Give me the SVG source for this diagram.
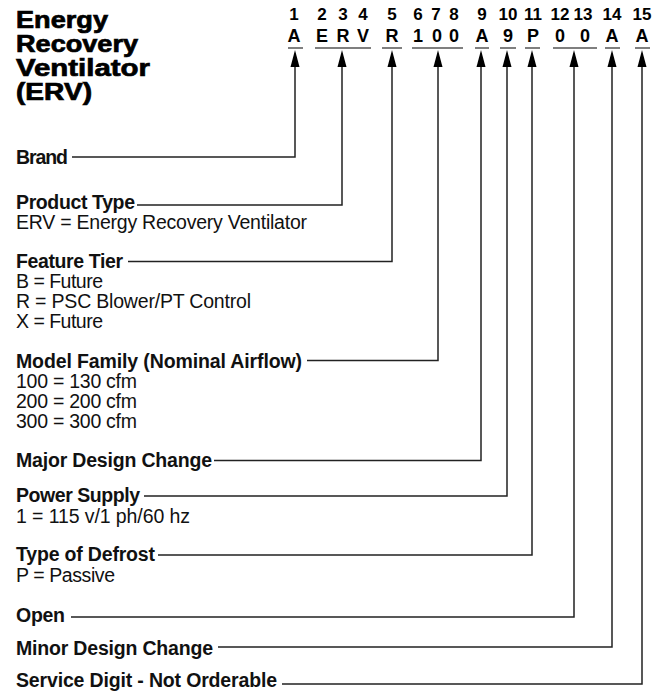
<svg xmlns="http://www.w3.org/2000/svg" width="666" height="694" viewBox="0 0 666 694">
<style>
.t{font-family:"Liberation Sans",Arial,sans-serif;font-weight:bold;font-size:23px;fill:#000;stroke:#000;stroke-width:0.7}
.d{font-family:"Liberation Sans",Arial,sans-serif;font-weight:bold;font-size:17px;fill:#000;text-anchor:middle}
.c{font-family:"Liberation Sans",Arial,sans-serif;font-weight:bold;font-size:18px;fill:#000;text-anchor:middle}
.l{font-family:"Liberation Sans",Arial,sans-serif;font-weight:bold;font-size:19.5px;fill:#111}
.v{font-family:"Liberation Sans",Arial,sans-serif;font-size:19.5px;fill:#111}
.u{stroke:#555;stroke-width:1.5;fill:none}
.w{stroke:#222;stroke-width:1.5;fill:none}
.a{fill:#000}
</style>
<rect width="666" height="694" fill="#fff"/>
<g id="title">
<text class="t" x="16" y="28" textLength="92" lengthAdjust="spacingAndGlyphs">Energy</text>
<text class="t" x="16" y="52" textLength="122" lengthAdjust="spacingAndGlyphs">Recovery</text>
<text class="t" x="16" y="76" textLength="134" lengthAdjust="spacingAndGlyphs">Ventilator</text>
<text class="t" x="16" y="100" textLength="76" lengthAdjust="spacingAndGlyphs">(ERV)</text>
</g>
<g id="code">
<g id="pos1"><text class="d" x="294" y="20">1</text><text class="c" x="294" y="42">A</text><line class="u" x1="288" y1="48" x2="303" y2="48"/></g>
<g id="pos2-4"><text class="d" x="322" y="20">2</text><text class="d" x="343" y="20">3</text><text class="d" x="363" y="20">4</text><text class="c" x="322" y="42">E</text><text class="c" x="343" y="42">R</text><text class="c" x="363" y="42">V</text><line class="u" x1="315" y1="48" x2="371" y2="48"/></g>
<g id="pos5"><text class="d" x="392" y="20">5</text><text class="c" x="392" y="42">R</text><line class="u" x1="382" y1="48" x2="402" y2="48"/></g>
<g id="pos6-8"><text class="d" x="418" y="20">6</text><text class="d" x="436" y="20">7</text><text class="d" x="454" y="20">8</text><text class="c" x="418" y="42">1</text><text class="c" x="437" y="42">0</text><text class="c" x="454" y="42">0</text><line class="u" x1="412" y1="48" x2="463" y2="48"/></g>
<g id="pos9"><text class="d" x="482" y="20">9</text><text class="c" x="482" y="42">A</text><line class="u" x1="475" y1="48" x2="489" y2="48"/></g>
<g id="pos10"><text class="d" x="508" y="20">10</text><text class="c" x="508" y="42">9</text><line class="u" x1="500" y1="48" x2="516" y2="48"/></g>
<g id="pos11"><text class="d" x="533" y="20">11</text><text class="c" x="533" y="42">P</text><line class="u" x1="525" y1="48" x2="540" y2="48"/></g>
<g id="pos12-13"><text class="d" x="560" y="20">12</text><text class="d" x="583" y="20">13</text><text class="c" x="560" y="42">0</text><text class="c" x="585" y="42">0</text><line class="u" x1="553" y1="48" x2="597" y2="48"/></g>
<g id="pos14"><text class="d" x="612" y="20">14</text><text class="c" x="612" y="42">A</text><line class="u" x1="605" y1="48" x2="620" y2="48"/></g>
<g id="pos15"><text class="d" x="642" y="20">15</text><text class="c" x="642" y="42">A</text><line class="u" x1="635" y1="48" x2="650" y2="48"/></g>
</g>
<g id="brand"><text class="l" x="16" y="164" textLength="52">Brand</text></g>
<g id="product-type"><text class="l" x="16" y="209" textLength="119">Product Type</text><text class="v" x="16" y="229" textLength="291">ERV = Energy Recovery Ventilator</text></g>
<g id="feature-tier"><text class="l" x="16" y="268" textLength="107">Feature Tier</text><text class="v" x="16" y="288" textLength="87">B = Future</text><text class="v" x="16" y="308" textLength="235">R = PSC Blower/PT Control</text><text class="v" x="16" y="328" textLength="87">X = Future</text></g>
<g id="model-family"><text class="l" x="16" y="368" textLength="286">Model Family (Nominal Airflow)</text><text class="v" x="16" y="388" textLength="121">100 = 130 cfm</text><text class="v" x="16" y="408" textLength="121">200 = 200 cfm</text><text class="v" x="16" y="428" textLength="121">300 = 300 cfm</text></g>
<g id="major-design"><text class="l" x="16" y="467" textLength="196">Major Design Change</text></g>
<g id="power-supply"><text class="l" x="16" y="502" textLength="124">Power Supply</text><text class="v" x="16" y="523" textLength="174">1 = 115 v/1 ph/60 hz</text></g>
<g id="defrost"><text class="l" x="16" y="561" textLength="139">Type of Defrost</text><text class="v" x="16" y="582" textLength="99">P = Passive</text></g>
<g id="open"><text class="l" x="16" y="622" textLength="49">Open</text></g>
<g id="minor-design"><text class="l" x="16" y="655" textLength="197">Minor Design Change</text></g>
<g id="service-digit"><text class="l" x="16" y="687" textLength="261">Service Digit - Not Orderable</text></g>
<g id="connectors">
<polyline class="w" points="72,157 295,157 295,64"/>
<polyline class="w" points="137,205 342,205 342,64"/>
<polyline class="w" points="128,261.5 392,261.5 392,64"/>
<polyline class="w" points="307,360.5 438,360.5 438,64"/>
<polyline class="w" points="214,460.5 481,460.5 481,64"/>
<polyline class="w" points="144,496 507,496 507,64"/>
<polyline class="w" points="158,555 532,555 532,64"/>
<polyline class="w" points="71,617 574,617 574,64"/>
<polyline class="w" points="218,647 612,647 612,64"/>
<polyline class="w" points="282,684 642,684 642,64"/>
<polygon class="a" points="295,50 290.5,67 299.5,67"/>
<polygon class="a" points="342,50 337.5,67 346.5,67"/>
<polygon class="a" points="392,50 387.5,67 396.5,67"/>
<polygon class="a" points="438,50 433.5,67 442.5,67"/>
<polygon class="a" points="481,50 476.5,67 485.5,67"/>
<polygon class="a" points="507,50 502.5,67 511.5,67"/>
<polygon class="a" points="532,50 527.5,67 536.5,67"/>
<polygon class="a" points="574,50 569.5,67 578.5,67"/>
<polygon class="a" points="612,50 607.5,67 616.5,67"/>
<polygon class="a" points="642,50 637.5,67 646.5,67"/>
</g>
</svg>
